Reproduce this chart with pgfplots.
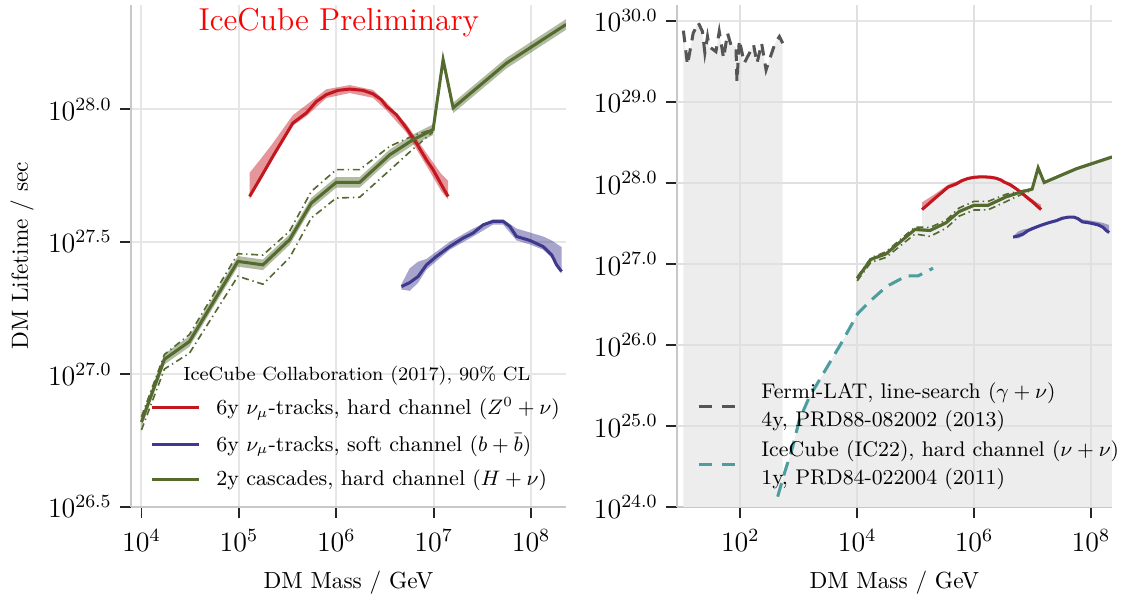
\documentclass[border=0pt]{standalone}
\usepackage{pgfplots}
\pgfplotsset{compat=1.18}
\usepackage{pgfplotstable}

\definecolor{cred}{RGB}{196,22,30}
\definecolor{cblue}{RGB}{62,56,142}
\definecolor{cgreen}{RGB}{84,106,46}
\definecolor{cfermi}{RGB}{85,85,85}
\definecolor{cteal}{RGB}{76,158,158}
\definecolor{cshade}{RGB}{237,237,237}
\definecolor{cgrid}{RGB}{230,230,230}
\definecolor{cgridd}{RGB}{224,224,224}
\definecolor{cspine}{RGB}{200,200,200}

% ---------------- data ----------------
\pgfplotstableread{
x y
1e4 6.607e26
1.722e4 1.140e27
3.112e4 1.330e27
9.772e4 2.667e27
1.766e5 2.588e27
3.319e5 3.221e27
5.546e5 4.426e27
1e6 5.297e27
1.738e6 5.297e27
3.540e6 6.730e27
6.138e6 7.674e27
9.863e6 8.375e27
1.250e7 1.538e28
1.585e7 1.012e28
5.598e7 1.493e28
2.291e8 2.089e28
}\greenmain

% band outlines: upper edge left to right, then lower edge right to left
\pgfplotstableread{
x y
1e4 6.918e26
1.722e4 1.194e27
3.112e4 1.393e27
9.772e4 2.793e27
1.766e5 2.710e27
3.319e5 3.373e27
5.546e5 4.634e27
1e6 5.546e27
1.738e6 5.546e27
3.540e6 7.047e27
6.138e6 8.035e27
9.863e6 8.770e27
9.863e6 7.998e27
6.138e6 7.328e27
3.540e6 6.427e27
1.738e6 5.058e27
1e6 5.058e27
5.546e5 4.227e27
3.319e5 3.076e27
1.766e5 2.472e27
9.772e4 2.547e27
3.112e4 1.271e27
1.722e4 1.089e27
1e4 6.310e26
}\greenbandA

\pgfplotstableread{
x y
1.585e7 1.059e28
5.598e7 1.563e28
2.291e8 2.188e28
2.291e8 1.995e28
5.598e7 1.426e28
1.585e7 9.661e27
}\greenbandB

\pgfplotstableread{
x up lo
1e4 6.918e26 6.166e26
1.722e4 1.189e27 1.047e27
3.112e4 1.413e27 1.202e27
9.772e4 2.851e27 2.344e27
1.766e5 2.818e27 2.188e27
3.319e5 3.467e27 2.754e27
5.546e5 4.898e27 3.890e27
1e6 5.916e27 4.624e27
1.738e6 5.916e27 4.656e27
3.540e6 7.244e27 5.888e27
6.138e6 7.943e27 7.079e27
9.863e6 8.414e27 8.222e27
}\greendash

\pgfplotstableread{
x y
1.288e5 4.688e27
1.698e5 5.572e27
2.234e5 6.637e27
2.831e5 7.674e27
3.589e5 8.872e27
4.932e5 9.683e27
6.237e5 1.069e28
7.907e5 1.135e28
1.040e6 1.178e28
1.374e6 1.191e28
1.879e6 1.178e28
2.382e6 1.143e28
2.904e6 1.086e28
3.273e6 1.026e28
4.150e6 9.528e27
5.248e6 8.492e27
6.653e6 7.447e27
8.433e6 6.442e27
9.863e6 5.916e27
1.202e7 5.188e27
1.406e7 4.688e27
}\redmain

\pgfplotstableread{
x y
1.288e5 5.754e27
1.698e5 6.531e27
2.234e5 7.447e27
2.831e5 8.414e27
3.589e5 9.506e27
4.932e5 1.038e28
7.907e5 1.189e28
1.374e6 1.233e28
2.382e6 1.183e28
3.273e6 1.062e28
5.248e6 8.790e27
8.433e6 6.823e27
1.202e7 5.689e27
1.406e7 5.370e27
1.406e7 4.571e27
1.202e7 4.898e27
8.433e6 6.124e27
5.248e6 8.166e27
3.273e6 9.908e27
2.382e6 1.104e28
1.374e6 1.151e28
7.907e5 1.102e28
4.932e5 9.419e27
3.589e5 8.670e27
2.831e5 7.499e27
2.234e5 6.486e27
1.698e5 5.445e27
1.288e5 4.571e27
}\redband

\pgfplotstableread{
x y
4.667e6 2.143e27
5.675e6 2.218e27
6.918e6 2.339e27
8.433e6 2.588e27
1.069e7 2.786e27
1.462e7 3.034e27
2.004e7 3.266e27
2.541e7 3.412e27
3.221e7 3.664e27
4.074e7 3.776e27
5.164e7 3.776e27
6.053e7 3.614e27
7.096e7 3.311e27
9.727e7 3.199e27
1.330e8 3.034e27
1.626e8 2.825e27
1.828e8 2.588e27
2.056e8 2.443e27
}\bluemain

\pgfplotstableread{
x y
4.667e6 2.188e27
5.675e6 2.512e27
6.918e6 2.661e27
8.433e6 2.723e27
1.462e7 3.162e27
2.541e7 3.548e27
4.074e7 3.846e27
5.164e7 3.846e27
7.096e7 3.548e27
9.727e7 3.428e27
1.330e8 3.311e27
1.626e8 3.199e27
2.056e8 3.020e27
2.056e8 2.399e27
1.626e8 2.754e27
1.330e8 2.951e27
9.727e7 3.090e27
7.096e7 3.199e27
5.164e7 3.673e27
4.074e7 3.673e27
2.541e7 3.311e27
1.462e7 2.951e27
8.433e6 2.483e27
6.918e6 2.213e27
5.675e6 2.065e27
4.667e6 2.089e27
}\blueband

\pgfplotstableread{
x y
10.64 7.586e29
12.47 2.864e29
15.63 7.047e29
19.05 9.550e29
22.54 7.379e29
24.77 4.027e29
27.48 6.397e29
29.38 4.819e29
38.28 4.178e29
43.65 7.379e29
51.76 3.467e29
60.53 7.047e29
69.18 5.058e29
84.33 4.819e29
87.70 1.778e29
96.16 5.821e29
117.2 3.006e29
133.4 3.622e29
169.0 5.058e29
193.2 3.006e29
231.7 5.309e29
276.1 2.483e29
336.5 3.802e29
393.6 5.309e29
466.7 6.397e29
532.1 5.309e29
}\fermi

\pgfplotstableread{
x y
436.5 1.340e24
568.9 2.606e24
788.9 5.546e24
1023 1.186e25
1528 2.301e25
2265 3.698e25
5333 1.047e26
1.028e4 2.460e26
1.633e4 3.428e26
3.155e4 5.248e26
6.950e4 7.112e26
1.099e5 7.112e26
1.986e5 8.851e26
}\icxxii

\begin{document}
\begin{tikzpicture}
\path[use as bounding box] (-56.2pt,-39.5pt) rectangle (425.8pt,217.6pt);

% ================= LEFT PANEL =================
\begin{axis}[
  scale only axis, width=186.7pt, height=215.5pt,
  at={(0pt,0pt)}, anchor=south west,
  xmode=log, ymode=log,
  axis x line*=bottom, axis y line*=left,
  axis line style={cspine, line width=1.1pt},
  tick align=outside, major tick length=4.7pt,
  tick style={black!85, line width=0.8pt},
  grid=major, major grid style={cgrid, line width=0.85pt},
  xminorticks=false, yminorticks=false,
  tick label style={font=\fontsize{12}{14}\selectfont},
  xticklabel style={yshift=-1.5pt},
  xlabel={DM Mass / GeV},
  xlabel style={font=\fontsize{10}{12}\selectfont, at={(axis description cs:0.5,-0.163)}, anchor=base},
  ylabel={DM Lifetime / sec},
  ylabel style={font=\fontsize{10}{12}\selectfont, at={(axis description cs:-0.2368,0.5)}, anchor=base},
  xmin=7.80e3, xmax=2.28e8, ymin=3.1623e26, ymax=2.477e28,
  xtick={1e4,1e5,1e6,1e7,1e8},
  ytick={3.1623e26,1e27,3.1623e27,1e28},
  yticklabels={$10^{26.5}$,$10^{27.0}$,$10^{27.5}$,$10^{28.0}$},
  legend cell align=left,
  legend style={at={(axis description cs:0.0437,0.229)}, anchor=north west,
    draw=none, fill=none, inner sep=0pt, row sep=2.6pt, column sep=5pt,
    font=\fontsize{9.2}{11}\selectfont},
  legend image code/.code={\draw[#1] (0pt,0pt) -- (20pt,0pt);},
]
% bands
\addplot[draw=none, fill=cred, fill opacity=0.45, forget plot] table[x=x,y=y]{\redband};
\addplot[draw=none, fill=cblue, fill opacity=0.45, forget plot] table[x=x,y=y]{\blueband};
\addplot[draw=none, fill=cgreen, fill opacity=0.45, forget plot] table[x=x,y=y]{\greenbandA};
\addplot[draw=none, fill=cgreen, fill opacity=0.45, forget plot] table[x=x,y=y]{\greenbandB};
% dash-dot sensitivities
\addplot[cgreen, line width=0.7pt, dash pattern=on 3pt off 1.6pt on 0.6pt off 1.6pt, forget plot] table[x=x,y=up]{\greendash};
\addplot[cgreen, line width=0.7pt, dash pattern=on 3pt off 1.6pt on 0.6pt off 1.6pt, forget plot] table[x=x,y=lo]{\greendash};
% main lines
\addplot[cred, line width=1.3pt, forget plot] table[x=x,y=y]{\redmain};
\addplot[cblue, line width=1.3pt, forget plot] table[x=x,y=y]{\bluemain};
\addplot[cgreen, line width=1.3pt, forget plot] table[x=x,y=y]{\greenmain};

\addlegendimage{cred, line width=1.3pt}
\addlegendentry{6y $\nu_\mu$-tracks, hard channel $(Z^0+\nu)$}
\addlegendimage{cblue, line width=1.3pt}
\addlegendentry{6y $\nu_\mu$-tracks, soft channel $(b+\bar{b})$}
\addlegendimage{cgreen, line width=1.3pt}
\addlegendentry{2y cascades, hard channel $(H+\nu)$}

\node[anchor=base west, inner sep=0pt, font=\fontsize{8.2}{10}\selectfont]
  at (axis description cs:0.1195,0.251) {IceCube Collaboration (2017), 90\% CL};
\node[anchor=base, text=red, font=\fontsize{13.6}{16}\selectfont]
  at (axis description cs:0.478,0.9486) {IceCube Preliminary};
\end{axis}

% ================= RIGHT PANEL =================
\begin{axis}[
  scale only axis, width=186.7pt, height=215.5pt,
  at={(234.3pt,0pt)}, anchor=south west,
  xmode=log, ymode=log,
  axis x line*=bottom, axis y line*=left,
  axis line style={cspine, line width=1.1pt},
  tick align=outside, major tick length=4.7pt,
  tick style={black!85, line width=0.8pt},
  grid=major, major grid style={cgrid, line width=0.85pt},
  xminorticks=false, yminorticks=false,
  tick label style={font=\fontsize{12}{14}\selectfont},
  xticklabel style={yshift=-1.5pt},
  xlabel={DM Mass / GeV},
  xlabel style={font=\fontsize{10}{12}\selectfont, at={(axis description cs:0.5,-0.163)}, anchor=base},
  xmin=8.204, xmax=2.28e8, ymin=1e24, ymax=1.578e30,
  xtick={1e2,1e4,1e6,1e8},
  ytick={1e24,1e25,1e26,1e27,1e28,1e29,1e30},
  yticklabels={$10^{24.0}$,$10^{25.0}$,$10^{26.0}$,$10^{27.0}$,$10^{28.0}$,$10^{29.0}$,$10^{30.0}$},
  legend cell align=left,
  legend style={at={(axis description cs:0.046,0.258)}, anchor=north west,
    draw=none, fill=none, inner sep=0pt, row sep=0.2pt, column sep=8.7pt,
    font=\fontsize{9.1}{11}\selectfont, cells={align=left}},
  legend image code/.code={\draw[#1] (0pt,0pt) -- (15.5pt,0pt);},
]
% excluded (shaded) regions
\addplot[draw=none, fill=cshade, forget plot] table[x=x,y=y]{\fermi} \closedcycle;
\addplot[draw=none, fill=cshade, forget plot] table[x=x,y=y]{\icxxii} \closedcycle;
\addplot[draw=none, fill=cshade, forget plot] table[x=x,y=y]{\greenmain} \closedcycle;
\addplot[draw=none, fill=cshade, forget plot] table[x=x,y=y]{\redmain} \closedcycle;
% grid lines showing through the shading
\draw[cgridd, line width=0.85pt] (axis cs:1e2,1e24) -- (axis cs:1e2,1.578e30);
\draw[cgridd, line width=0.85pt] (axis cs:1e4,1e24) -- (axis cs:1e4,1.578e30);
\draw[cgridd, line width=0.85pt] (axis cs:1e6,1e24) -- (axis cs:1e6,1.578e30);
\draw[cgridd, line width=0.85pt] (axis cs:1e8,1e24) -- (axis cs:1e8,1.578e30);
\draw[cgridd, line width=0.85pt] (axis cs:8.204,1e25) -- (axis cs:2.28e8,1e25);
\draw[cgridd, line width=0.85pt] (axis cs:8.204,1e26) -- (axis cs:2.28e8,1e26);
\draw[cgridd, line width=0.85pt] (axis cs:8.204,1e27) -- (axis cs:2.28e8,1e27);
\draw[cgridd, line width=0.85pt] (axis cs:8.204,1e28) -- (axis cs:2.28e8,1e28);
\draw[cgridd, line width=0.85pt] (axis cs:8.204,1e29) -- (axis cs:2.28e8,1e29);
% bands
\addplot[draw=none, fill=cred, fill opacity=0.45, forget plot] table[x=x,y=y]{\redband};
\addplot[draw=none, fill=cblue, fill opacity=0.45, forget plot] table[x=x,y=y]{\blueband};
\addplot[draw=none, fill=cgreen, fill opacity=0.45, forget plot] table[x=x,y=y]{\greenbandA};
\addplot[draw=none, fill=cgreen, fill opacity=0.45, forget plot] table[x=x,y=y]{\greenbandB};
\addplot[cgreen, line width=0.7pt, dash pattern=on 3pt off 1.6pt on 0.6pt off 1.6pt, forget plot] table[x=x,y=up]{\greendash};
\addplot[cgreen, line width=0.7pt, dash pattern=on 3pt off 1.6pt on 0.6pt off 1.6pt, forget plot] table[x=x,y=lo]{\greendash};
% other experiments
\addplot[cfermi, line width=1.3pt, dash pattern=on 5pt off 3.5pt, forget plot] table[x=x,y=y]{\fermi};
\addplot[cteal, line width=1.3pt, dash pattern=on 6pt off 3.5pt, forget plot] table[x=x,y=y]{\icxxii};
% main lines
\addplot[cred, line width=1.3pt, forget plot] table[x=x,y=y]{\redmain};
\addplot[cblue, line width=1.3pt, forget plot] table[x=x,y=y]{\bluemain};
\addplot[cgreen, line width=1.3pt, forget plot] table[x=x,y=y]{\greenmain};

\addlegendimage{cfermi, line width=1.3pt, dash pattern=on 5.5pt off 4.5pt}
\addlegendentry{Fermi-LAT, line-search $(\gamma+\nu)$\\[1.3pt]4y, PRD88-082002 (2013)}
\addlegendimage{cteal, line width=1.3pt, dash pattern=on 5.5pt off 4.5pt}
\addlegendentry{IceCube (IC22), hard channel $(\nu+\nu)$\\[1.3pt]1y, PRD84-022004 (2011)}
\end{axis}
\end{tikzpicture}
\end{document}
